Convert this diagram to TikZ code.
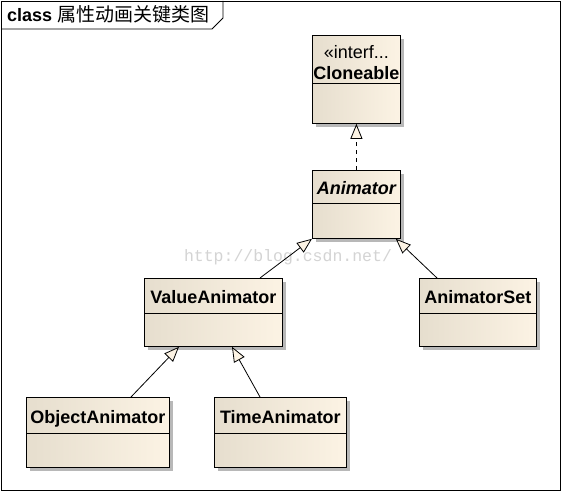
\documentclass[tikz,border=0pt]{standalone}
\usepackage{fontspec}
\setmainfont{Liberation Sans}
\newfontfamily\cjkf{Noto Sans CJK SC}
\newfontfamily\wmfont{Liberation Mono}
\usetikzlibrary{arrows.meta,shadows,calc}
\definecolor{cbL}{RGB}{230,222,206}
\definecolor{cbR}{RGB}{252,243,228}
\definecolor{wmgray}{RGB}{212,212,212}
\begin{document}
\begin{tikzpicture}[x=1pt,y=-1pt,
  classbox/.style={draw=black, line width=0.8pt, anchor=north west, inner sep=0pt,
    left color=cbL, right color=cbR,
    drop shadow={shadow xshift=4pt, shadow yshift=-4pt, fill=black!28, opacity=1}},
  nametext/.style={font=\bfseries\fontsize{18}{20}\selectfont, inner sep=0pt,
    text height=13pt, text depth=0pt, anchor=center},
  stereotext/.style={font=\fontsize{18}{20}\selectfont, inner sep=0pt,
    text height=13pt, text depth=0pt, anchor=center},
  divider/.style={line width=0.8pt},
  inherit/.style={line width=0.8pt, -{Triangle[length=15pt,width=12pt,fill=cbR,line width=0.8pt]}},
  realize/.style={inherit, dash pattern=on 4pt off 4pt}
]
\useasboundingbox (0,0) rectangle (561,492);
\fill[white] (0,0) rectangle (561,492);
% frame
\draw[line width=0.8pt] (1,1) rectangle (560,490);
\coordinate (tabA) at (1,29);
\coordinate (tabB) at (212,29);
\coordinate (tabC) at (223,18);
\coordinate (tabD) at (223,1);
\draw[line width=0.8pt] (tabA) -- (tabB) -- (tabC) -- (tabD);
\node[anchor=west, inner sep=0pt, text height=13pt, text depth=0pt] (title) at (7,15)
  {\bfseries\fontsize{18}{20}\selectfont class\ {\mdseries\cjkf\fontsize{19}{20}\selectfont 属性动画关键类图}};

% watermark
\node[font=\wmfont\fontsize{16.5}{18}\selectfont, text=wmgray, inner sep=0pt] (wm) at (288,257) {http://blog.csdn.net/};

% Cloneable
\node[classbox, minimum width=88pt, minimum height=88pt] (clone) at (312,35) {};
\draw[divider] ([yshift=-48pt]clone.north west) -- ([yshift=-48pt]clone.north east);
\node[stereotext] (clonest) at ($(clone.north)+(0,17)$) {«interf...};
\node[nametext] (clonename) at ($(clone.north)+(0,38)$) {Cloneable};

% Animator
\node[classbox, minimum width=88pt, minimum height=68pt] (anim) at (312,170) {};
\draw[divider] ([yshift=-33pt]anim.north west) -- ([yshift=-33pt]anim.north east);
\node[nametext, font=\bfseries\itshape\fontsize{18}{20}\selectfont] (animname) at ($(anim.north)+(0,18)$) {Animator};

% ValueAnimator
\node[classbox, minimum width=138pt, minimum height=68pt] (value) at (144,278) {};
\draw[divider] ([yshift=-35pt]value.north west) -- ([yshift=-35pt]value.north east);
\node[nametext] (valuename) at ($(value.north)+(0,19)$) {ValueAnimator};

% AnimatorSet
\node[classbox, minimum width=117pt, minimum height=68pt] (set) at (419,278) {};
\draw[divider] ([yshift=-35pt]set.north west) -- ([yshift=-35pt]set.north east);
\node[nametext] (setname) at ($(set.north)+(0,19)$) {AnimatorSet};

% ObjectAnimator
\node[classbox, minimum width=143pt, minimum height=70pt] (object) at (26,397) {};
\draw[divider] ([yshift=-36pt]object.north west) -- ([yshift=-36pt]object.north east);
\node[nametext] (objectname) at ($(object.north)+(0,20)$) {ObjectAnimator};

% TimeAnimator
\node[classbox, minimum width=132pt, minimum height=70pt] (time) at (214,397) {};
\draw[divider] ([yshift=-36pt]time.north west) -- ([yshift=-36pt]time.north east);
\node[nametext] (timename) at ($(time.north)+(0,20)$) {TimeAnimator};

% connectors
\draw[realize] (anim.north) -- (clone.south);
\draw[inherit] ([xshift=116pt]value.north west) -- (anim.south west);
\draw[inherit] ([xshift=18pt]set.north west) -- ([xshift=-5pt]anim.south east);
\draw[inherit] ([xshift=105pt]object.north west) -- ([xshift=35pt]value.south west);
\draw[inherit] ([xshift=46pt]time.north west) -- ([xshift=88pt]value.south west);
\end{tikzpicture}
\end{document}
